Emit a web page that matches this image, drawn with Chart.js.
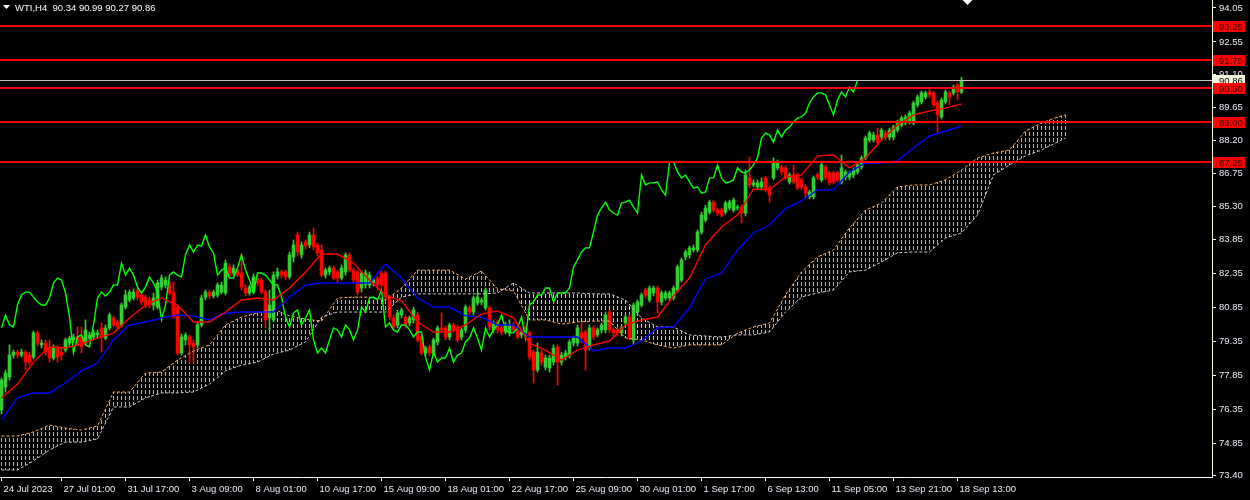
<!DOCTYPE html>
<html lang="en">
<head>
<meta charset="UTF-8">
<title>WTI H4</title>
<script src="https://cdn.jsdelivr.net/npm/chart.js"></script>
<style>
  html, body { margin: 0; padding: 0; background: #000; }
  canvas { display: block; background: #000; }
</style>
</head>
<body>
<canvas id="chart" width="1250" height="500"></canvas>
<script>
const symbol = 'WTI,H4';

// H4 bars, [open, high, low, close]
const candles = [
[76.31,77.72,76.13,77.63],[77.32,78.07,77.10,77.94],[77.76,79.18,77.63,78.73],[78.73,78.95,78.60,78.86],[78.86,78.95,78.60,78.73],
[78.73,79.00,78.64,78.86],[78.86,78.95,78.07,78.42],[78.73,78.86,78.29,78.42],[78.64,79.79,78.55,79.71],[79.71,79.79,79.13,79.26],
[79.18,79.40,79.04,79.26],[79.26,79.40,78.73,78.86],[79.04,79.40,78.42,78.60],[78.60,79.18,78.51,79.09],[79.09,79.18,78.42,78.64],
[78.86,79.04,78.51,78.73],[78.95,79.48,78.86,79.40],[79.26,79.57,79.13,79.48],[79.40,79.66,79.26,79.53],[79.53,79.97,79.13,79.26],
[79.53,79.97,78.82,79.09],[79.26,80.28,79.18,79.84],[79.48,79.75,79.35,79.62],[79.53,79.84,79.44,79.71],[79.62,79.84,79.48,79.71],
[79.93,80.15,78.86,79.53],[79.48,80.06,79.40,79.93],[79.93,80.59,79.84,80.50],[80.37,80.46,79.97,80.06],[80.19,80.28,79.84,79.97],
[80.06,81.03,79.97,80.94],[80.85,81.60,80.76,81.38],[81.16,81.60,81.07,81.51],[81.25,81.65,81.16,81.51],[81.60,81.69,81.16,81.29],
[81.38,81.47,80.94,81.07],[81.29,81.38,80.81,80.94],[81.16,81.29,80.81,80.94],[80.94,81.47,80.72,81.25],[80.85,82.04,80.76,81.91],
[81.73,82.26,81.60,82.13],[81.82,82.18,81.69,82.04],[81.91,82.00,81.38,81.47],[81.51,81.96,80.37,80.41],[80.85,80.94,78.73,78.82],
[78.82,79.66,78.73,79.53],[79.40,79.71,79.18,79.62],[79.53,79.62,78.38,79.18],[79.26,79.40,78.38,79.09],[79.18,80.19,79.04,80.06],
[80.06,81.38,79.97,81.25],[81.29,81.60,81.16,81.51],[81.51,81.60,81.21,81.34],[81.34,81.60,81.25,81.51],[81.38,81.91,81.29,81.82],
[81.51,81.96,81.43,81.82],[81.47,82.93,81.38,82.79],[82.62,82.75,82.13,82.26],[82.35,82.71,82.26,82.57],[82.48,82.57,82.18,82.26],
[82.35,83.15,81.60,81.73],[81.69,81.82,81.34,81.47],[81.47,81.82,81.38,81.73],[81.51,82.31,81.43,82.18],[82.13,82.26,81.78,81.91],
[82.04,82.13,81.43,81.51],[81.51,81.60,79.97,80.28],[80.37,81.60,79.84,80.94],[80.28,82.40,80.19,82.26],[82.22,82.57,82.09,82.40],
[82.40,82.48,82.13,82.26],[82.40,82.48,82.04,82.18],[82.18,83.28,82.09,83.15],[83.06,83.81,82.84,83.59],[84.03,84.16,83.10,83.28],
[83.15,83.72,83.01,83.59],[83.72,83.81,83.41,83.54],[83.59,84.16,83.46,84.03],[84.03,84.34,83.37,83.50],[83.59,83.68,83.10,83.24],
[83.37,83.59,82.18,82.26],[82.26,82.57,82.13,82.48],[82.40,82.66,82.26,82.57],[82.57,82.66,82.04,82.13],[82.40,82.48,81.91,82.13],
[82.13,82.71,82.04,82.57],[82.40,83.24,82.26,83.15],[83.15,83.24,82.40,82.48],[82.48,82.57,81.96,82.04],[82.40,82.48,81.38,81.51],
[81.69,82.44,81.51,82.35],[81.82,82.48,81.69,82.35],[81.82,82.40,81.69,82.26],[81.91,82.13,81.78,82.04],[82.13,82.22,81.60,81.82],
[82.35,82.44,81.73,81.82],[82.35,82.44,81.16,81.29],[81.29,81.38,80.28,80.41],[80.37,80.50,79.84,79.97],[80.06,80.72,79.93,80.59],
[80.50,80.81,80.37,80.72],[80.41,80.50,79.93,80.06],[80.15,80.46,80.02,80.37],[80.28,80.85,80.15,80.72],[80.50,80.63,79.31,79.40],
[79.53,79.62,78.73,78.82],[78.82,79.13,78.69,79.04],[79.09,79.18,78.69,78.82],[78.82,79.48,78.73,79.40],[79.31,80.02,79.18,79.93],
[79.93,80.59,79.75,79.84],[79.93,80.02,79.40,79.53],[79.53,80.15,79.40,80.06],[80.06,80.15,79.75,79.84],[79.97,80.06,79.31,79.40],
[79.53,79.93,79.40,79.84],[79.84,80.94,79.71,80.85],[80.81,80.90,80.50,80.63],[80.63,81.34,80.50,81.25],[81.03,81.51,80.94,81.29],
[81.07,81.25,80.94,81.16],[80.81,81.69,80.72,81.60],[80.81,80.90,79.84,79.97],[79.84,80.24,79.71,80.15],[80.19,80.28,79.71,79.84],
[79.93,80.02,79.62,79.75],[79.75,80.19,79.66,80.06],[79.71,80.28,79.57,80.06],[80.06,80.19,79.75,79.84],[79.84,79.93,79.44,79.53],
[79.62,79.84,79.48,79.75],[79.97,80.06,79.62,79.75],[79.71,79.79,78.51,78.64],[78.86,78.95,77.50,78.07],[78.07,79.26,77.98,78.86],
[78.82,78.95,78.29,78.42],[78.20,78.73,78.07,78.60],[78.16,78.73,77.98,78.60],[78.42,79.18,78.29,79.04],[79.09,79.18,77.41,78.42],
[78.42,78.86,78.29,78.73],[78.64,78.95,78.51,78.82],[78.73,79.40,78.60,79.31],[79.26,79.57,79.13,79.48],[79.26,80.06,79.13,79.93],
[79.71,80.15,79.26,79.48],[79.75,79.84,78.07,78.95],[79.04,80.06,78.95,79.93],[79.93,80.02,79.40,79.53],[79.62,79.93,79.53,79.84],
[79.84,80.15,79.71,80.06],[79.84,80.63,79.71,80.50],[80.63,80.72,79.71,79.84],[79.84,79.93,79.57,79.71],[79.84,79.93,79.57,79.71],
[79.71,80.02,79.57,79.93],[80.15,80.50,80.02,80.41],[80.41,80.50,79.40,79.48],[79.40,81.03,79.18,80.94],[80.63,81.16,80.50,81.07],
[80.94,81.47,80.85,81.38],[81.60,81.69,81.25,81.38],[81.16,81.78,81.07,81.69],[81.47,81.78,81.34,81.69],[81.69,81.78,80.59,81.07],
[81.07,81.56,80.94,81.47],[81.25,81.56,81.16,81.47],[81.25,81.56,81.16,81.47],[81.25,81.78,81.16,81.69],[81.60,82.71,81.51,82.62],
[82.04,83.01,81.96,82.93],[83.06,83.37,82.93,83.28],[83.15,83.54,83.01,83.46],[83.37,83.59,83.28,83.46],[83.37,84.25,83.28,84.16],
[84.16,85.04,84.07,84.91],[84.69,85.35,84.60,85.22],[85.04,85.57,84.96,85.48],[85.48,85.57,85.04,85.13],[85.13,85.22,84.87,85.00],
[85.13,85.22,84.82,84.91],[85.04,85.53,84.96,85.44],[85.22,85.57,85.13,85.48],[85.13,85.66,85.04,85.57],[85.22,85.35,85.13,85.26],
[85.26,85.35,84.56,85.00],[85.00,86.90,84.87,86.68],[86.55,87.47,86.11,86.24],[86.24,86.46,86.15,86.33],[86.15,86.46,86.02,86.33],
[86.15,86.55,86.02,86.37],[86.55,86.63,85.93,86.02],[86.11,86.20,85.48,85.79],[86.55,87.43,86.46,87.25],[86.99,87.34,86.90,87.25],
[87.03,87.12,86.68,86.81],[86.99,87.07,86.46,86.55],[86.37,86.77,86.28,86.68],[86.68,87.12,86.28,86.37],[86.68,86.77,86.02,86.11],
[86.46,86.55,86.02,86.15],[86.15,86.24,85.66,85.88],[85.71,86.02,85.62,85.93],[85.71,86.63,85.62,86.55],[86.68,86.77,86.46,86.55],
[86.46,87.21,86.37,87.12],[87.03,87.12,86.46,86.55],[86.77,86.85,86.24,86.33],[86.77,86.85,86.28,86.37],[86.77,86.85,86.37,86.46],
[86.37,87.56,86.28,86.99],[86.59,86.90,86.46,86.81],[86.59,86.85,86.46,86.77],[86.68,86.99,86.55,86.90],[86.81,87.21,86.72,87.12],
[87.03,87.52,86.94,87.43],[87.43,88.40,87.34,88.31],[88.22,88.62,88.13,88.53],[88.22,88.57,88.13,88.44],[88.44,88.75,88.00,88.13],
[88.35,88.75,88.22,88.66],[88.53,88.62,88.22,88.35],[88.35,88.75,88.22,88.66],[88.35,88.88,88.22,88.79],[88.66,89.10,88.57,89.02],
[88.88,89.28,88.80,89.19],[88.97,89.33,88.88,89.24],[89.02,89.50,88.93,89.41],[88.97,89.94,88.88,89.85],[89.77,90.21,89.68,90.12],
[89.90,90.38,89.81,90.30],[90.12,90.38,90.03,90.30],[90.34,90.56,90.08,90.21],[90.30,90.38,89.68,89.77],[89.85,89.94,88.57,89.33],
[89.24,90.08,89.15,89.99],[89.90,90.43,89.81,90.34],[90.30,90.38,89.77,90.12],[90.30,90.65,90.21,90.56],[90.65,90.74,89.99,90.34],
[90.34,90.99,90.27,90.86]
];

// Ichimoku lines, one value every 4 bars
const tenkan = [
76.84,77.45,78.42,79.09,79.04,79.22,79.48,79.70,80.37,80.94,
81.25,80.94,80.19,80.19,80.63,81.16,81.25,81.16,81.69,82.40,
83.19,83.19,82.79,82.04,81.38,81.12,80.19,79.75,79.75,80.06,
80.54,80.68,80.37,79.26,78.95,78.51,78.95,79.18,79.35,80.06,
80.28,80.41,81.34,82.13,83.59,84.38,84.91,86.06,86.02,86.59,
86.68,87.52,87.56,86.99,87.43,88.22,88.88,89.33,89.50,89.63,
89.81
];
const kijun = [
75.87,76.84,77.06,77.06,77.50,78.03,78.38,79.40,80.06,80.19,
80.37,80.50,80.46,80.28,80.59,80.63,80.63,80.63,81.29,81.82,
81.91,81.91,81.91,81.91,82.75,82.13,81.25,80.85,80.85,80.46,
80.41,80.06,80.06,79.53,79.53,79.53,79.53,78.91,79.04,79.04,
79.35,79.93,79.97,80.81,82.09,82.35,83.37,84.12,84.47,85.18,
85.53,86.02,86.02,86.81,87.21,87.21,87.30,87.87,88.40,88.62,
88.84
];
// cloud, already shifted 26 bars forward (last value is the final bar)
const spanA = [
75.16,75.16,75.34,75.64,75.51,75.42,75.60,77.10,77.10,77.94,
77.98,78.51,78.91,79.18,80.06,80.41,80.59,80.76,80.46,80.32,
80.23,81.25,81.29,81.29,81.16,81.69,82.48,82.48,82.48,82.09,
82.44,81.65,81.56,80.28,80.28,80.10,80.19,80.23,80.23,79.48,
79.40,79.18,79.04,79.18,79.18,79.18,79.70,79.97,80.15,81.38,
82.40,83.06,83.37,84.34,85.13,85.44,86.15,86.24,86.24,86.46,
86.90,87.43,87.65,87.78,88.62,88.97,89.24,89.33
];
const spanB = [
73.66,73.66,74.06,74.54,74.89,74.89,75.03,76.44,76.44,76.84,
77.06,77.06,77.10,77.45,78.03,78.29,78.42,78.78,78.95,79.31,
80.41,80.63,80.63,80.63,80.63,81.29,81.43,81.43,81.43,81.43,
81.43,81.47,81.91,81.47,81.47,81.47,81.47,81.43,81.43,81.16,
80.37,79.97,79.97,79.62,79.57,79.53,79.62,79.62,79.75,80.63,
81.29,81.47,81.60,82.40,82.48,82.84,83.24,83.28,83.28,83.90,
84.12,84.91,86.68,87.12,87.52,87.78,88.13,88.31
];

const levels = [93.25, 91.75, 90.50, 89.00, 87.25];
const priceTicks = [94.05, 92.55, 91.10, 89.65, 88.20, 86.75, 85.30, 83.85, 82.35, 80.85, 79.35, 77.85, 76.35, 74.85, 73.40];
const timeLabels = ['24 Jul 2023', '27 Jul 01:00', '31 Jul 17:00', '3 Aug 09:00', '8 Aug 01:00', '10 Aug 17:00',
  '15 Aug 09:00', '18 Aug 01:00', '22 Aug 17:00', '25 Aug 09:00', '30 Aug 01:00', '1 Sep 17:00',
  '6 Sep 13:00', '11 Sep 05:00', '13 Sep 21:00', '18 Sep 13:00'];
const timeLabelBars = [0, 15, 31, 47, 63, 79, 95, 111, 127, 143, 159, 175, 191, 207, 223, 239];

const step = 4;
const shift = 26;
const lastBar = candles.length - 1;
const cloudEnd = lastBar + shift;
const bull = '#32cd32', bear = '#ff0000', axisCol = '#fffde8';
const sandy = '#f4a460', thistle = '#d8bfd8';

const colors = candles.map(c => c[3] >= c[0] ? bull : bear);
const spanPos = k => Math.min(k * step, cloudEnd);
const line = (data, color, order, extra) => Object.assign({
  type: 'line', data, borderColor: color, borderWidth: 1.4, pointRadius: 0, tension: 0, fill: false, order
}, extra || {});

// value of a sampled span line at bar j (for drawing the hatch between the two lines)
function spanAt(arr, j) {
  for (let k = 1; k < arr.length; k++) {
    const x0 = spanPos(k - 1), x1 = spanPos(k);
    if (j <= x1) return arr[k - 1] + (j - x0) / (x1 - x0) * (arr[k] - arr[k - 1]);
  }
  return arr[arr.length - 1];
}

// dotted hatch, one column per bar: sandy where A is above B, thistle otherwise
const cloud = {
  id: 'cloud',
  beforeDatasetsDraw(chart) {
    const ctx = chart.ctx, xs = chart.scales.x, ys = chart.scales.y;
    ctx.save();
    ctx.lineWidth = 1;
    ctx.setLineDash([4, 2]);
    for (let j = 0; j <= cloudEnd; j++) {
      const a = spanAt(spanA, j), b = spanAt(spanB, j);
      const px = Math.round(xs.getPixelForValue(j) - 0.5) + 0.5;
      const top = Math.round(ys.getPixelForValue(Math.max(a, b)));
      const bot = Math.round(ys.getPixelForValue(Math.min(a, b)));
      ctx.strokeStyle = a >= b ? sandy : thistle;
      ctx.lineDashOffset = top % 6;
      ctx.beginPath(); ctx.moveTo(px, top); ctx.lineTo(px, bot); ctx.stroke();
    }
    ctx.restore();
  }
};

const overlay = {
  id: 'overlay',
  afterDatasetsDraw(chart) {
    const ctx = chart.ctx, a = chart.chartArea, y = chart.scales.y;
    const bid = candles[lastBar][3];
    ctx.save();
    ctx.beginPath(); ctx.rect(a.left, a.top, a.right - a.left, a.bottom - a.top); ctx.clip();
    ctx.strokeStyle = '#c0c0c0'; ctx.lineWidth = 1;
    const by = Math.round(y.getPixelForValue(bid)) + 0.5;
    ctx.beginPath(); ctx.moveTo(a.left, by); ctx.lineTo(a.right, by); ctx.stroke();
    ctx.strokeStyle = '#ff0000'; ctx.lineWidth = 2;
    levels.forEach(v => {
      const py = Math.round(y.getPixelForValue(v));
      ctx.beginPath(); ctx.moveTo(a.left, py); ctx.lineTo(a.right, py); ctx.stroke();
    });
    ctx.restore();
  },
  afterDraw(chart) {
    const ctx = chart.ctx, a = chart.chartArea, y = chart.scales.y, x = chart.scales.x;
    const last = candles[lastBar];
    ctx.save();
    ctx.font = '9.5px "Liberation Sans"';
    ctx.textBaseline = 'middle';
    ctx.textAlign = 'left';
    const box = (v, bg, fg) => {
      const py = Math.round(y.getPixelForValue(v));
      ctx.fillStyle = bg;
      ctx.fillRect(a.right + 1, py - 5, 32, 11);
      ctx.fillStyle = fg;
      ctx.fillText(v.toFixed(2), a.right + 7, py + 1);
    };
    box(last[3], '#f4f4dc', '#000');
    levels.forEach(v => box(v, '#ff0000', '#3a0000'));

    // header
    ctx.fillStyle = '#fff';
    ctx.beginPath(); ctx.moveTo(3, 5); ctx.lineTo(10, 5); ctx.lineTo(6.5, 9); ctx.closePath(); ctx.fill();
    ctx.fillText(symbol + '  ' + last.map(v => v.toFixed(2)).join(' '), 15, 8);

    // chart shift marker
    const mx = x.getPixelForValue(lastBar + 1.5);
    ctx.beginPath(); ctx.moveTo(mx - 5, 0); ctx.lineTo(mx + 5, 0); ctx.lineTo(mx, 5); ctx.closePath(); ctx.fill();
    ctx.restore();
  }
};

Chart.defaults.font.family = '"Liberation Sans", Arial, sans-serif';
Chart.defaults.font.size = 9.5;
Chart.defaults.color = '#e8eef8';

new Chart(document.getElementById('chart'), {
  type: 'line',
  data: {
    datasets: [
      line(tenkan.map((v, k) => ({ x: k * step, y: v })), '#ff0000', 0),
      line(kijun.map((v, k) => ({ x: k * step, y: v })), '#0000ff', 1),
      line(candles.slice(shift).map((c, j) => ({ x: j, y: c[3] })), '#00ff00', 2),
      line(spanA.map((v, k) => ({ x: spanPos(k), y: v })), sandy, 3, { borderDash: [3, 2], borderWidth: 1 }),
      line(spanB.map((v, k) => ({ x: spanPos(k), y: v })), thistle, 4, { borderDash: [3, 2], borderWidth: 1 }),
      {
        type: 'bar', data: candles.map((c, i) => ({ x: i, y: [c[0], c[3]] })),
        backgroundColor: colors, barThickness: 3, minBarLength: 1, grouped: false, order: 5
      },
      {
        type: 'bar', data: candles.map((c, i) => ({ x: i, y: [c[2], c[1]] })),
        backgroundColor: colors, barThickness: 1, grouped: false, order: 6
      }
    ]
  },
  options: {
    responsive: false,
    devicePixelRatio: 1,
    animation: false,
    events: [],
    layout: { padding: 0 },
    plugins: { legend: { display: false }, tooltip: { enabled: false } },
    scales: {
      x: {
        type: 'linear', min: -0.375, max: 302.625, offset: false,
        grid: { drawOnChartArea: false, drawTicks: true, tickLength: 4, color: axisCol, offset: false },
        border: { display: true, color: axisCol },
        afterBuildTicks: s => { s.ticks = timeLabelBars.map(v => ({ value: v })); },
        afterFit: s => { s.height = 23; s.paddingLeft = 0; s.paddingRight = 0; },
        ticks: {
          autoSkip: false, maxRotation: 0, minRotation: 0, align: 'start', labelOffset: 2, padding: 3,
          callback: (v, i) => timeLabels[i]
        }
      },
      y: {
        type: 'linear', position: 'right', min: 73.35, max: 94.40,
        grid: { drawOnChartArea: false, drawTicks: true, tickLength: 4, color: axisCol },
        border: { display: true, color: axisCol },
        afterBuildTicks: s => { s.ticks = priceTicks.map(v => ({ value: v })); },
        afterFit: s => { s.width = 38; s.paddingTop = 0; s.paddingBottom = 0; },
        ticks: { autoSkip: false, padding: 3, callback: v => v.toFixed(2) }
      }
    }
  },
  plugins: [cloud, overlay]
});
</script>
</body>
</html>
